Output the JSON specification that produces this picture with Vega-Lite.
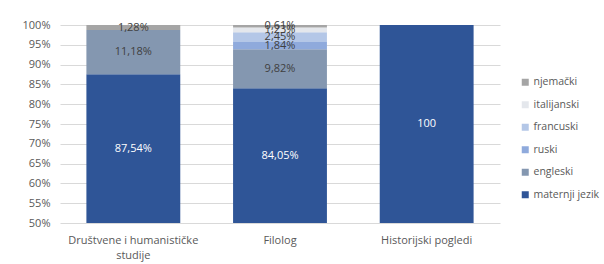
{
  "$schema": "https://vega.github.io/schema/vega-lite/v6.json",
  "width": 440,
  "height": 198,
  "autosize": {"type": "none"},
  "padding": {"left": 60, "top": 25, "right": 104, "bottom": 41},
  "background": "white",
  "config": {"view": {"stroke": null}, "font": "Open Sans"},
  "data": {"values": [
    {"kat": "Društvene i humanističke studije", "jezik": "maternji jezik", "ord": 1, "pct": 87.54, "lab": "87,54%"},
    {"kat": "Društvene i humanističke studije", "jezik": "engleski", "ord": 2, "pct": 11.18, "lab": "11,18%"},
    {"kat": "Društvene i humanističke studije", "jezik": "njemački", "ord": 6, "pct": 1.28, "lab": "1,28%"},
    {"kat": "Filolog", "jezik": "maternji jezik", "ord": 1, "pct": 84.05, "lab": "84,05%"},
    {"kat": "Filolog", "jezik": "engleski", "ord": 2, "pct": 9.82, "lab": "9,82%"},
    {"kat": "Filolog", "jezik": "ruski", "ord": 3, "pct": 1.84, "lab": "1,84%"},
    {"kat": "Filolog", "jezik": "francuski", "ord": 4, "pct": 2.45, "lab": "2,45%"},
    {"kat": "Filolog", "jezik": "italijanski", "ord": 5, "pct": 1.23, "lab": "1,23%"},
    {"kat": "Filolog", "jezik": "njemački", "ord": 6, "pct": 0.61, "lab": "0,61%"},
    {"kat": "Historijski pogledi", "jezik": "maternji jezik", "ord": 1, "pct": 100, "lab": "100"}
  ]},
  "transform": [
    {"stack": "pct", "groupby": ["kat"], "sort": [{"field": "ord", "order": "ascending"}], "as": ["y0", "y1"]},
    {"calculate": "(max(datum.y0, 50) + datum.y1) / 2", "as": "mid"}
  ],
  "encoding": {
    "x": {
      "field": "kat", "type": "nominal", "sort": null,
      "scale": {"paddingInner": 0.36, "paddingOuter": 0.18},
      "axis": {
        "title": null, "labelAngle": 0, "domain": false, "ticks": false,
        "labelPadding": 11, "labelColor": "#595959", "labelFontSize": 11, "labelLineHeight": 15,
        "labelExpr": "datum.label == 'Društvene i humanističke studije' ? ['Društvene i humanističke', 'studije'] : datum.label"
      }
    }
  },
  "layer": [
    {
      "mark": {"type": "bar"},
      "encoding": {
        "y": {
          "field": "y0", "type": "quantitative",
          "scale": {"domain": [50, 100], "clamp": true, "nice": false, "zero": false},
          "axis": {
            "title": null, "values": [50, 55, 60, 65, 70, 75, 80, 85, 90, 95, 100],
            "labelExpr": "datum.value + '%'", "grid": true, "gridColor": "#D9D9D9",
            "domain": false, "ticks": false, "labelPadding": 10, "labelOverlap": false,
            "labelColor": "#595959", "labelFontSize": 11
          }
        },
        "y2": {"field": "y1"},
        "color": {
          "field": "jezik", "type": "nominal",
          "scale": {
            "domain": ["njemački", "italijanski", "francuski", "ruski", "engleski", "maternji jezik"],
            "range": ["#A5A5A5", "#E4E7EC", "#B4C7E7", "#8FAADC", "#8497B0", "#2F5597"]
          },
          "legend": {
            "orient": "none", "legendX": 460, "legendY": 52, "title": null,
            "symbolType": "square", "symbolSize": 49, "symbolStrokeWidth": 0,
            "labelFontSize": 10.5, "labelColor": "#595959", "rowPadding": 11.5, "labelOffset": 3
          }
        }
      }
    },
    {
      "mark": {"type": "text", "fontSize": 11},
      "encoding": {
        "y": {
          "field": "mid", "type": "quantitative",
          "axis": {
            "title": null, "values": [50, 55, 60, 65, 70, 75, 80, 85, 90, 95, 100],
            "labelExpr": "datum.value + '%'", "grid": true, "gridColor": "#D9D9D9",
            "domain": false, "ticks": false, "labelPadding": 10, "labelOverlap": false,
            "labelColor": "#595959", "labelFontSize": 11
          }
        },
        "text": {"field": "lab"},
        "color": {
          "condition": {"test": "datum.jezik === 'maternji jezik'", "value": "white"},
          "value": "#404040"
        }
      }
    }
  ]
}
